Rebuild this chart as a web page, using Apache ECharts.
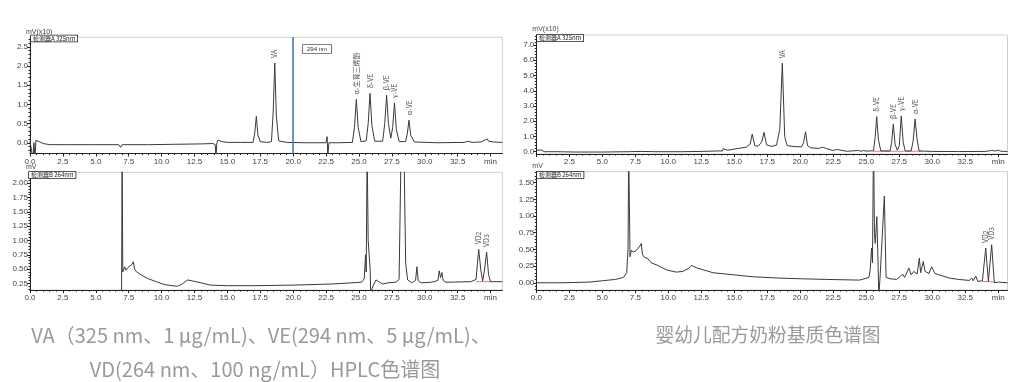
<!DOCTYPE html>
<html><head><meta charset="utf-8">
<script src="https://cdn.jsdelivr.net/npm/echarts@6/dist/echarts.min.js"></script>
<style>html,body{margin:0;padding:0;background:#fff}#c{width:1024px;height:382px}</style>
</head><body><div id="c"></div>
<script>
// ---- data (time in min, signal) ----
const tlTrace = [[0,0.03],[0.15,0.03],[0.22,-0.4],[0.3,0.0],[0.38,-0.4],[0.45,0.06],[0.7,0.03],[1.0,-0.02],[1.5,-0.05],[3,-0.05],[5,-0.05],[6.75,-0.05],[6.89,-0.12],[7.0,-0.05],[9,-0.05],[11,-0.04],[13.0,-0.03],[13.9,-0.02],[14.08,-0.05],[14.13,-0.4],[14.2,0.0],[14.3,0.07],[14.6,0.03],[15.0,0.01],[16.0,0.01],[16.95,0.01],[17.08,0.25],[17.2,0.69],[17.32,0.2],[17.5,0.03],[18.0,0.01],[18.35,0.03],[18.48,0.8],[18.6,2.08],[18.72,0.7],[18.9,0.05],[19.5,0.01],[21,0.0],[22.5,0.0],[22.58,0.16],[22.63,-0.35],[22.72,0.0],[23.5,0.0],[24.5,0.01],[24.66,0.4],[24.8,1.13],[24.94,0.4],[25.15,0.03],[25.55,0.05],[25.7,0.5],[25.84,1.29],[25.98,0.45],[26.2,0.04],[26.8,0.04],[26.96,0.5],[27.1,1.24],[27.24,0.5],[27.42,0.12],[27.56,0.4],[27.7,1.04],[27.84,0.35],[28.05,0.03],[28.55,0.03],[28.68,0.25],[28.8,0.59],[28.93,0.2],[29.2,0.02],[31,0.0],[33.0,0.01],[33.3,0.04],[33.6,0.01],[34.3,0.02],[34.5,0.06],[34.6,0.03],[34.75,0.1],[34.85,0.04],[35.0,0.08],[35.2,0.02],[35.9,0.01]];
const blTrace = [[0,0.05],[6.9,0.05],[6.96,0.1],[7.0,2.6],[7.05,0.45],[7.1,0.42],[7.2,0.54],[7.3,0.48],[7.45,0.53],[7.6,0.55],[7.75,0.58],[7.85,0.63],[7.95,0.5],[8.1,0.45],[8.3,0.42],[8.5,0.39],[9.0,0.33],[9.6,0.28],[10.2,0.23],[10.8,0.21],[11.2,0.2],[11.5,0.23],[11.8,0.28],[12.0,0.31],[12.4,0.29],[13.0,0.26],[13.7,0.22],[15,0.21],[17,0.21],[20,0.22],[23,0.24],[25.2,0.27],[25.4,0.33],[25.5,0.75],[25.55,0.45],[25.62,2.6],[25.7,1.0],[25.78,0.97],[25.85,0.5],[25.9,0.0],[26.0,0.16],[26.1,0.22],[26.3,0.31],[26.5,0.28],[26.8,0.24],[27.2,0.26],[27.8,0.27],[28.05,0.32],[28.2,2.6],[28.42,2.6],[28.55,0.6],[28.7,0.31],[29.0,0.26],[29.3,0.3],[29.4,0.54],[29.5,0.3],[29.7,0.26],[30.5,0.27],[31.0,0.3],[31.1,0.47],[31.2,0.35],[31.3,0.44],[31.4,0.3],[31.6,0.27],[33.5,0.28],[33.9,0.32],[34.0,0.6],[34.1,0.845],[34.25,0.5],[34.4,0.29],[34.55,0.5],[34.7,0.8],[34.85,0.4],[35.0,0.28],[35.9,0.28]];
const trTrace = [[0,0.1],[0.4,0.1],[0.6,0.0],[1.5,0.0],[3,-0.02],[5,-0.02],[7,0.0],[8,0.02],[9,0.0],[11,0.0],[12.5,0.02],[13.8,0.05],[14.1,0.05],[14.15,0.2],[14.5,0.1],[15.2,0.2],[15.9,0.3],[16.2,0.5],[16.36,1.16],[16.55,0.4],[16.8,0.36],[17.0,0.55],[17.1,0.7],[17.25,1.27],[17.45,0.45],[17.8,0.35],[18.2,0.43],[18.45,1.5],[18.64,5.8],[18.82,1.0],[19.0,0.4],[19.6,0.33],[20.1,0.32],[20.25,0.6],[20.4,1.31],[20.55,0.4],[20.8,0.25],[21.4,0.22],[21.7,0.3],[22.0,0.2],[22.5,0.08],[22.75,0.15],[22.85,0.05],[23.5,0.03],[24.4,0.08],[24.6,0.03],[24.8,0.08],[25.0,0.04],[25.55,0.06],[25.68,1.0],[25.79,2.3],[25.92,0.8],[26.1,0.05],[26.8,0.05],[26.92,0.6],[27.05,1.82],[27.18,0.5],[27.35,0.1],[27.5,0.4],[27.65,2.34],[27.8,0.6],[27.95,0.05],[28.4,0.05],[28.55,0.7],[28.7,2.14],[28.85,0.8],[29.0,0.05],[30,0.02],[32,0.01],[34,0.02],[34.5,0.08],[34.8,0.05],[35.0,0.1],[35.2,0.03],[35.7,0.02]];
const brTrace = [[0,0.0],[2,0.0],[4,0.01],[5.0,0.03],[6.0,0.05],[6.6,0.08],[6.85,0.15],[6.95,0.5],[7.0,2.0],[7.05,1.2],[7.1,0.39],[7.2,0.49],[7.35,0.46],[7.55,0.48],[7.7,0.5],[7.85,0.55],[7.95,0.59],[8.05,0.42],[8.2,0.38],[8.45,0.36],[8.7,0.3],[9.2,0.26],[9.9,0.19],[10.6,0.16],[11.1,0.17],[11.5,0.21],[11.75,0.26],[12.2,0.22],[13.4,0.15],[14.9,0.12],[16.4,0.09],[18.4,0.07],[20,0.06],[22,0.05],[24.5,0.04],[25.2,0.08],[25.3,0.2],[25.4,0.52],[25.47,0.3],[25.55,2.2],[25.62,0.74],[25.68,0.59],[25.8,0.99],[25.88,0.4],[25.95,-0.2],[26.05,0.1],[26.2,0.12],[26.37,1.3],[26.5,0.08],[26.8,0.06],[27.3,0.05],[27.6,0.1],[27.75,0.13],[27.9,0.08],[28.0,0.08],[28.23,0.22],[28.4,0.12],[28.6,0.17],[28.69,0.19],[28.85,0.13],[29.02,0.37],[29.12,0.15],[29.32,0.32],[29.45,0.17],[29.6,0.18],[29.75,0.14],[29.95,0.24],[30.2,0.14],[30.5,0.12],[31.3,0.07],[32.0,0.05],[32.8,0.035],[33.0,0.07],[33.1,0.03],[33.3,0.1],[33.45,0.02],[33.8,0.03],[34.05,0.52],[34.25,0.02],[34.5,0.57],[34.7,0.0],[35.0,0.01],[35.7,0.0]];

const tlPeakNames = ['VA','α-生育三烯酚','δ-VE','β-VE','γ-VE','α-VE'];
const tlPeakTimes = [18.6,24.8,25.84,27.1,27.7,28.8];
const tlPeakHeights = [2.08,1.13,1.29,1.24,1.04,0.59];
const blPeakNames = ['VD2','VD3'];
const blPeakTimes = [34.1,34.7];
const blPeakHeights = [0.845,0.8];
const trPeakNames = ['VA','δ-VE','β-VE','γ-VE','α-VE'];
const trPeakTimes = [18.64,25.79,27.05,27.65,28.7];
const trPeakHeights = [5.8,2.3,1.82,2.34,2.14];
const brPeakNames = ['VD2','VD3'];
const brPeakTimes = [34.05,34.5];
const brPeakHeights = [0.52,0.57];

const xLabelValues = [0,2.5,5,7.5,10,12.5,15,17.5,20,22.5,25,27.5,30,32.5,35];
const xLabelValuesNoZero = [2.5,5,7.5,10,12.5,15,17.5,20,22.5,25,27.5,30,32.5,35];
const tlYLabels = [0,0.5,1,1.5,2,2.5];
const blYLabels = [0.25,0.5,0.75,1,1.25,1.5,1.75,2];
const trYLabels = [0,1,2,3,4,5,6,7];
const brYLabels = [0,0.25,0.5,0.75,1,1.25,1.5];

const captionLeft1 = 'VA（325 nm、1 μg/mL)、VE(294 nm、5 μg/mL)、';
const captionLeft2 = 'VD(264 nm、100 ng/mL）HPLC色谱图';
const captionRight = '婴幼儿配方奶粉基质色谱图';

// ---- helpers ----
function steps(a, b, s) { const r = []; for (let v = a; v <= b + 1e-9; v += s) r.push(Math.round(v * 1000) / 1000); return r; }
const AX = '#222', LBL = '#444';
const grids = [
  {left:30, top:37.3, width:472.4, height:116.2},
  {left:30, top:172.3, width:472.4, height:117.8},
  {left:536.3, top:35, width:471.2, height:119},
  {left:536.3, top:171.7, width:471.2, height:118.4}
];
const cfg = [
  {xmax:35.9, xl:xLabelValues, ymin:-0.28, ymax:2.75, yl:tlYLabels, ym:steps(-0.2,2.7,0.1), dec:1, name:'mV(x10)'},
  {xmax:35.9, xl:xLabelValues, ymin:0.133, ymax:2.19, yl:blYLabels, ym:steps(0.15,2.15,0.05), dec:2, name:'mV'},
  {xmax:35.7, xl:xLabelValuesNoZero, ymin:-0.15, ymax:7.66, yl:trYLabels, ym:steps(0,7.6,0.2), dec:1, name:'mV(x10)'},
  {xmax:35.7, xl:xLabelValues, ymin:-0.11, ymax:1.665, yl:brYLabels, ym:steps(-0.1,1.65,0.05), dec:2, name:'mV'}
];
const xAxes = [], yAxes = [];
cfg.forEach((c, g) => {
  const xMinor = steps(0, 35, 0.5);
  xAxes.push({type:'value', gridIndex:g, min:0, max:c.xmax, position:'bottom',
    axisLine:{show:true, onZero:false, lineStyle:{color:AX, width:1}},
    axisTick:{show:true, customValues:xLabelValues, length:3, lineStyle:{color:AX}},
    axisLabel:{show:true, customValues:c.xl, fontSize:8, color:LBL, margin:4, fontFamily:'Liberation Sans',
      formatter:v => v === 35 ? 'min' : v.toFixed(1)},
    splitLine:{show:false}});
  xAxes.push({type:'value', gridIndex:g, min:0, max:c.xmax, position:'bottom',
    axisLine:{show:false, onZero:false}, axisTick:{show:true, customValues:xMinor, length:1.5, lineStyle:{color:AX}},
    axisLabel:{show:false}, splitLine:{show:false}});
  yAxes.push({type:'value', gridIndex:g, min:c.ymin, max:c.ymax, position:'left',
    name:c.name, nameLocation:'end', nameGap:2,
    nameTextStyle:{fontSize:7, color:LBL, align:'left', padding:[0,0,0,-4], fontFamily:'Liberation Sans'},
    axisLine:{show:true, onZero:false, lineStyle:{color:AX, width:1}},
    axisTick:{show:true, customValues:c.yl, length:3, lineStyle:{color:AX}},
    axisLabel:{show:true, customValues:c.yl, fontSize:8, color:LBL, margin:2, fontFamily:'Liberation Sans',
      formatter:v => v.toFixed(c.dec)},
    splitLine:{show:false}});
  yAxes.push({type:'value', gridIndex:g, min:c.ymin, max:c.ymax, position:'left',
    axisLine:{show:false, onZero:false}, axisTick:{show:true, customValues:c.ym, length:1.5, lineStyle:{color:AX}},
    axisLabel:{show:false}, splitLine:{show:false}});
});

function traceSeries(g, data, extra) {
  return Object.assign({type:'line', xAxisIndex:2*g, yAxisIndex:2*g, data:data, showSymbol:false, symbol:'none',
    lineStyle:{color:'#3a3a3a', width:1}, silent:true, animation:false, z:3}, extra || {});
}
function labelSeries(g, names, times, heights) {
  return {type:'scatter', xAxisIndex:2*g, yAxisIndex:2*g, symbolSize:0, silent:true, animation:false, z:5,
    data: names.map((n, i) => [times[i], heights[i], n]),
    label:{show:true, position:'top', distance:2, rotate:90, align:'left', verticalAlign:'middle',
      offset:[3,0], fontSize:7, color:'#222', fontFamily:'Noto Sans CJK SC', formatter:p => p.data[2]}};
}
function redBase(g, pts) {
  return {type:'line', xAxisIndex:2*g, yAxisIndex:2*g, data:pts, showSymbol:false, symbol:'none',
    lineStyle:{color:'#e05555', width:0.8}, silent:true, animation:false, z:2};
}

const series = [
  traceSeries(0, tlTrace, {markLine:{symbol:'none', silent:true, animation:false,
    lineStyle:{color:'#4a78ad', width:1.6, type:'solid'}, label:{show:false}, data:[{xAxis:20}]}}),
  traceSeries(1, blTrace),
  traceSeries(2, trTrace),
  traceSeries(3, brTrace),
  labelSeries(0, tlPeakNames, tlPeakTimes, tlPeakHeights),
  labelSeries(1, blPeakNames, blPeakTimes, blPeakHeights),
  labelSeries(2, trPeakNames, trPeakTimes, trPeakHeights),
  labelSeries(3, brPeakNames, brPeakTimes, brPeakHeights),
  redBase(1, [[33.9,0.28],[35.0,0.28]]),
  redBase(2, [[25.5,0.03],[29.2,0.03]]),
  redBase(3, [[33.8,0.02],[34.8,0.01]])
];

function box(x, y, text) {
  return {type:'text', x:x, y:y, z:10, style:{text:text, fill:'#222', font:'6px "Noto Sans CJK SC"',
    backgroundColor:'#fff', borderColor:'#222', borderWidth:0.8, padding:[0,2,0,2]}};
}
function caption(x, y, text, size) {
  return {type:'text', x:x, y:y, style:{text:text, fill:'#999', font:size + 'px "Noto Sans CJK SC"',
    align:'center', verticalAlign:'middle', textAlign:'center', textVerticalAlign:'middle'}};
}

const chart = echarts.init(document.getElementById('c'), null, {renderer:'canvas'});
chart.setOption({
  backgroundColor:'#fff',
  animation:false,
  grid: grids.map(g => Object.assign({show:true, borderColor:'#cfcfcf', borderWidth:1, backgroundColor:'transparent'}, g)),
  xAxis: xAxes,
  yAxis: yAxes,
  series: series,
  graphic: [
    box(31, 35.5, '检测器A 325nm'),
    box(29, 172, '检测器B 264nm'),
    box(537, 35, '检测器A 325nm'),
    box(537, 172, '检测器B 264nm'),
    {type:'text', x:303, y:45, z:10, style:{text:'294 nm', fill:'#333', font:'6px "Liberation Sans"',
      backgroundColor:'#fff', borderColor:'#555', borderWidth:0.8, padding:[1,4,1,4]}},
    caption(261, 335, captionLeft1, 20),
    caption(265, 369, captionLeft2, 20),
    caption(768, 335, captionRight, 18.75)
  ]
});
</script></body></html>
